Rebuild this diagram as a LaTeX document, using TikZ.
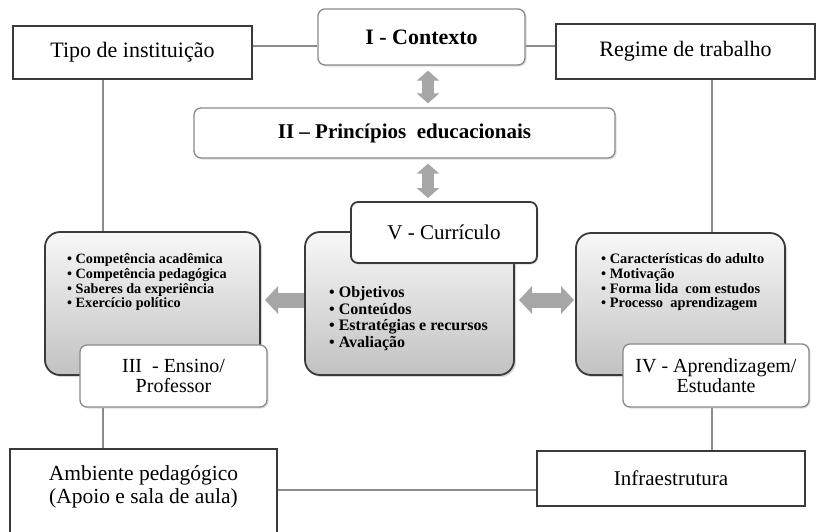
\documentclass[tikz,border=0pt]{standalone}
\usepackage{fontspec}
\setmainfont{Liberation Serif}
\usetikzlibrary{arrows.meta,shadows,calc}
\definecolor{arrowgray}{HTML}{A6A6A6}
\definecolor{linegray}{HTML}{8C8C8C}
\definecolor{boxdark}{HTML}{3A3A3A}
\definecolor{lblgray}{HTML}{8A8A8A}
\begin{document}
\begin{tikzpicture}[x=1pt,y=-1pt,
  conn/.style={draw=linegray, line width=1.2pt},
  sqbox/.style={draw=boxdark, line width=1.5pt, fill=white, inner sep=0pt, align=center},
  lbl/.style={draw=lblgray, line width=1.3pt, fill=white, rounded corners=7pt, inner sep=0pt, align=center,
     drop shadow={opacity=0.25, shadow xshift=1.5pt, shadow yshift=-1.5pt}},
  graybox/.style={draw=boxdark, line width=1.8pt, rounded corners=15pt, top color=gray!6, bottom color=gray!48,
     inner sep=0pt, drop shadow={opacity=0.3, shadow xshift=2pt, shadow yshift=-2pt}},
  bul/.style={anchor=north west, inner sep=0pt, align=left},
  varr/.style={draw=arrowgray, line width=12pt, {Triangle[length=10pt,width=22pt]}-{Triangle[length=10pt,width=22pt]}},
  harr/.style={draw=arrowgray, line width=15pt},
  bigfont/.style={font=\fontsize{22}{24}\selectfont},
]
\useasboundingbox (0,0) rectangle (816,531);
\fill[white] (0,0) rectangle (816,531);

\coordinate (xl) at (103,0);
\coordinate (xr) at (712,0);
\coordinate (xa) at (428,0);
\coordinate (yt) at (0,46);
\coordinate (yh) at (0,300);
\coordinate (yb) at (0,490);

% top row
\node[sqbox, bigfont, minimum width=239pt, minimum height=53pt] (tipo) at (132.5,52.5) {Tipo de instituição};
\node[lbl, font=\fontsize{22}{24}\selectfont\bfseries, minimum width=207pt, minimum height=56pt] (contexto) at (421.5,37) {I - Contexto};
\node[sqbox, bigfont, minimum width=259pt, minimum height=55pt] (regime) at (685.5,51.5) {Regime de trabalho};
\node[lbl, font=\fontsize{21}{23}\selectfont\bfseries, minimum width=421pt, minimum height=50pt] (princ) at (404.5,133) {II – Princípios~ educacionais};

% vertical arrows
\draw[varr] ([yshift=-5pt]contexto.south -| xa) -- ([yshift=4pt]princ.north -| xa);
\draw[varr] ([yshift=-5pt]princ.south -| xa) -- (xa |- 0,198);

% horizontal left arrow (behind centre box)
\draw[harr, -{Triangle[length=13pt,width=27pt]}] (320,300) -- (265,300);

% gray boxes
\node[graybox, minimum width=215pt, minimum height=143pt] (gl) at (152.5,303.5) {};
\node[graybox, minimum width=209pt, minimum height=143pt] (gc) at (409.5,303.5) {};
\node[graybox, minimum width=209pt, minimum height=142pt] (gr) at (680.5,304) {};

% right double arrow
\draw[harr, {Triangle[length=13pt,width=27pt]}-{Triangle[length=13pt,width=27pt]}] (519,300) -- (574,300);

% bullets
\node[bul, font=\fontsize{14.2}{14.7}\bfseries\selectfont] (bl) at (67,253.5) {• Competência acadêmica\\• Competência pedagógica\\• Saberes da experiência\\• Exercício político};
\node[bul, font=\fontsize{16}{16.7}\bfseries\selectfont] (bc) at (329,286) {• Objetivos\\• Conteúdos\\• Estratégias e recursos\\• Avaliação};
\node[bul, font=\fontsize{14.4}{14.7}\bfseries\selectfont] (br) at (601,253.5) {• Características do adulto\\• Motivação\\• Forma lida~ com estudos\\• Processo~ aprendizagem};

% labels
\node[lbl, font=\fontsize{20}{19.5}\selectfont, minimum width=187pt, minimum height=62pt] (lab3) at (173.5,376) {III~ - Ensino/\\Professor};
\node[lbl, draw=boxdark, line width=1.8pt, font=\fontsize{21}{23}\selectfont, minimum width=186pt, minimum height=61pt] (labv) at (444,232.5) {V - Currículo};
\node[lbl, font=\fontsize{20}{19.5}\selectfont, minimum width=186pt, minimum height=63pt] (lab4) at (716,375.5) {IV - Aprendizagem/\\Estudante};

% bottom row
\node[sqbox, minimum width=267pt, minimum height=96pt] (ambbox) at (143.5,497) {};
\node[inner sep=0pt, align=center, font=\fontsize{21.5}{23}\selectfont] (amb) at (143.5,486.5) {Ambiente pedagógico\\(Apoio e sala de aula)};
\node[sqbox, font=\fontsize{21}{23}\selectfont, minimum width=268pt, minimum height=55pt] (infra) at (671,478.5) {Infraestrutura};

% connectors
\draw[conn] (tipo.east |- yt) -- (contexto.west |- yt);
\draw[conn] (contexto.east |- yt) -- (regime.west |- yt);
\draw[conn] (tipo.south -| xl) -- (gl.north -| xl);
\draw[conn] (lab3.south -| xl) -- (ambbox.north -| xl);
\draw[conn] (regime.south -| xr) -- (gr.north -| xr);
\draw[conn] (lab4.south -| xr) -- (infra.north -| xr);
\draw[conn] (ambbox.east |- yb) -- (infra.west |- yb);
\end{tikzpicture}
\end{document}
